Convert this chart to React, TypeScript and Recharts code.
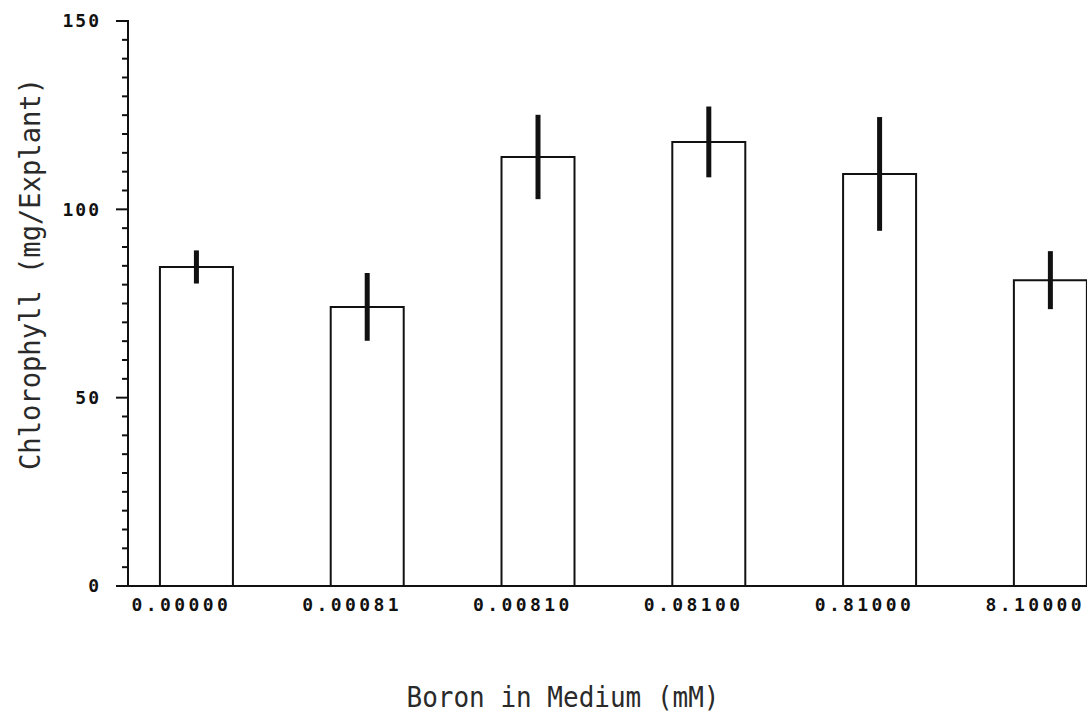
import { BarChart, Bar, XAxis, YAxis, ErrorBar } from 'recharts';

// Boron levels (mM) on the x axis
const boronLevels = ['0.00000', '0.00081', '0.00810', '0.08100', '0.81000', '8.10000'];
// Mean chlorophyll per explant and its error
const chlorophyll = [84.7, 74.1, 113.9, 117.9, 109.4, 81.2];
const chlorophyllErr = [4.4, 9.0, 11.2, 9.4, 15.1, 7.7];
// y axis: labelled majors every 50, minor marks every 5
const yMajor = [0, 50, 100, 150];
const yMinor = [0, 5, 10, 15, 20, 25, 30, 35, 40, 45, 50, 55, 60, 65, 70, 75, 80, 85, 90, 95, 100, 105, 110, 115, 120, 125, 130, 135, 140, 145, 150];

const rows = boronLevels.map((label, i) => ({
  idx: i,
  label,
  value: chlorophyll[i],
  err: chlorophyllErr[i],
}));

const tickFont = '"DejaVu Sans Mono", monospace';

const YTick = ({ x, y, payload }: any) => {
  const major = yMajor.includes(payload.value);
  return (
    <g>
      <line x1={major ? x - 12 : x - 6} x2={x + (major ? 1 : 0)} y1={y} y2={y} stroke="#111" strokeWidth={2} />
      {major && (
        <text x={x - 27} y={y} dy="0.36em" textAnchor="end" fontFamily={tickFont} fontWeight="bold" fontSize={18} letterSpacing={2} fill="#111">
          {payload.value}
        </text>
      )}
    </g>
  );
};

const XTick = ({ x, y, payload }: any) => (
  <text x={x - 15} y={y + 25} textAnchor="middle" fontFamily={tickFont} fontWeight="bold" fontSize={18} letterSpacing={3.4} fill="#111">
    {boronLevels[payload.value]}
  </text>
);

const XTitle = ({ viewBox }: any) => (
  <text
    x={viewBox.x + 435}
    y={viewBox.y + 121}
    textAnchor="middle"
    fontFamily={tickFont}
    fontSize={28}
    textLength={313}
    lengthAdjust="spacingAndGlyphs"
    fill="#2a2a2a"
  >
    Boron in Medium (mM)
  </text>
);

const YTitle = ({ viewBox }: any) => {
  const cx = viewBox.x + viewBox.width - 88;
  const cy = viewBox.y + 253;
  return (
    <text
      x={cx}
      y={cy}
      transform={`rotate(-90 ${cx} ${cy})`}
      textAnchor="middle"
      fontFamily={tickFont}
      fontSize={28}
      textLength={392}
      lengthAdjust="spacingAndGlyphs"
      fill="#2a2a2a"
    >
      Chlorophyll (mg/Explant)
    </text>
  );
};

export default function App() {
  return (
    <div style={{ position: 'absolute', left: 0, top: 0, background: '#fff' }}>
      <BarChart width={1090} height={717} data={rows} margin={{ top: 21, right: 3, bottom: 130, left: 127 }}>
        <XAxis
          type="number"
          dataKey="idx"
          domain={[-0.4, 5.215]}
          ticks={[0, 1, 2, 3, 4, 5]}
          allowDataOverflow
          height={1}
          tickSize={0}
          tickMargin={0}
          tickLine={false}
          axisLine={{ stroke: '#111', strokeWidth: 2 }}
          tick={<XTick />}
          interval={0}
          label={{ content: <XTitle /> }}
        />
        <YAxis
          type="number"
          domain={[0, 150]}
          ticks={yMinor}
          width={1}
          tickSize={0}
          tickMargin={0}
          tickLine={false}
          axisLine={{ stroke: '#111', strokeWidth: 2 }}
          tick={<YTick />}
          interval={0}
          label={{ content: <YTitle /> }}
        />
        <Bar dataKey="value" barSize={73} fill="#fff" stroke="#111" strokeWidth={2} isAnimationActive={false}>
          <ErrorBar dataKey="err" width={0} strokeWidth={5} stroke="#111" direction="y" isAnimationActive={false} />
        </Bar>
      </BarChart>
    </div>
  );
}
